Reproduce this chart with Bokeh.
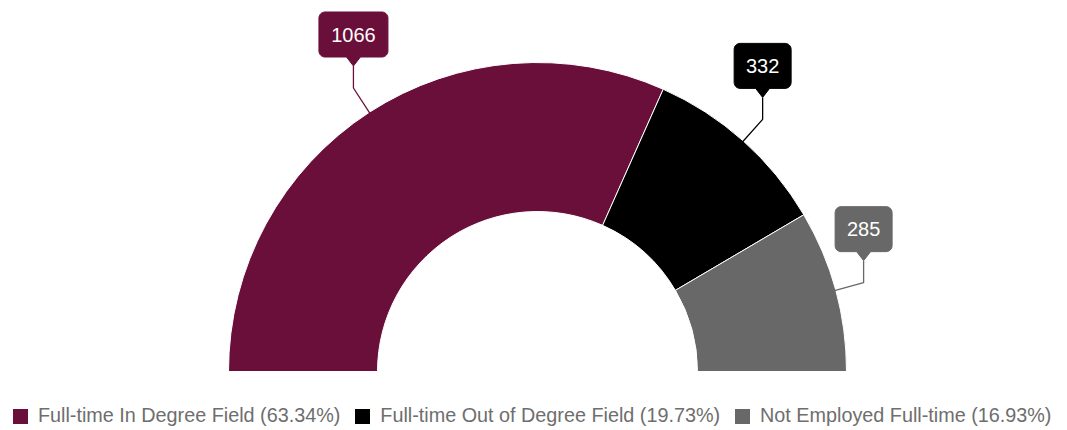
import math
from bokeh.plotting import figure
from bokeh.models import ColumnDataSource, Range1d, Legend, LegendItem
from bokeh.core.properties import value
from bokeh.embed import file_html
from bokeh.resources import INLINE

# ---- data ----
categories = ["Full-time In Degree Field", "Full-time Out of Degree Field", "Not Employed Full-time"]
counts = [1066, 332, 285]
colors = ["#6a0f39", "#000000", "#686868"]

# ---- layout (pixels) ----
W, H = 1067, 430
cx, cy = 537, 59
r_out, r_in = 309, 160
FONT = "Liberation Sans"

total = sum(counts)
fracs = [c / total for c in counts]
starts, ends, mids = [], [], []
acc = 0.0
for f in fracs:
    end = math.pi - acc * math.pi
    acc += f
    start = math.pi - acc * math.pi
    starts.append(start)
    ends.append(end)
    mids.append((start + end) / 2)

legend_labels = [f"{c} ({f*100:.2f}%)" for c, f in zip(categories, fracs)]

src = ColumnDataSource(dict(
    x=[cx] * len(counts), y=[cy] * len(counts),
    start=starts, end=ends, color=colors, label=legend_labels,
))

p = figure(width=W, height=H, x_range=Range1d(0, W), y_range=Range1d(0, H),
           output_backend="svg", toolbar_location=None,
           x_axis_location=None, y_axis_location=None, min_border=0)
p.outline_line_color = None
p.xgrid.visible = False
p.ygrid.visible = False
p.background_fill_color = "white"
p.border_fill_color = "white"

wedges = p.annular_wedge(x="x", y="y", inner_radius=r_in, outer_radius=r_out,
                         start_angle="start", end_angle="end", direction="anticlock",
                         fill_color="color", line_color="white", line_width=1, source=src)

# ---- callout data labels ----
lx, ly, bxs, bys, tx, ty = [], [], [], [], [], []
for i, (c, a) in enumerate(zip(counts, mids)):
    ax_, ay_ = cx + (r_out - 4) * math.cos(a), cy + (r_out - 4) * math.sin(a)
    bx_, by_ = cx + (r_out + 29) * math.cos(a), cy + (r_out + 29) * math.sin(a)
    tipx, tipy = bx_, by_ + 22
    lx.append([ax_, bx_, tipx])
    ly.append([ay_, by_, tipy])
    txt = str(c)
    w = 21 + 12 * len(txt)
    h = 45
    rad = 6
    bot = tipy + 9
    top = bot + h
    left, right = tipx - w / 2, tipx + w / 2
    xs, ys = [], []
    xs += [tipx + 7, tipx, tipx - 7]
    ys += [bot, tipy, bot]
    for k in range(9):
        t = math.pi * 1.5 - k * (math.pi / 2) / 8
        xs.append(left + rad + rad * math.cos(t)); ys.append(bot + rad + rad * math.sin(t))
    for k in range(9):
        t = math.pi - k * (math.pi / 2) / 8
        xs.append(left + rad + rad * math.cos(t)); ys.append(top - rad + rad * math.sin(t))
    for k in range(9):
        t = math.pi / 2 - k * (math.pi / 2) / 8
        xs.append(right - rad + rad * math.cos(t)); ys.append(top - rad + rad * math.sin(t))
    for k in range(9):
        t = 0 - k * (math.pi / 2) / 8
        xs.append(right - rad + rad * math.cos(t)); ys.append(bot + rad + rad * math.sin(t))
    bxs.append(xs); bys.append(ys)
    tx.append(tipx); ty.append(bot + h / 2)

p.multi_line(xs=lx, ys=ly, line_color=colors, line_width=1.3)
p.patches(xs=bxs, ys=bys, fill_color=colors, line_color=colors)
p.text(x=tx, y=ty, text=[str(c) for c in counts], text_color="white",
       text_font=value(FONT), text_font_style="normal", text_font_size="20px",
       text_align="center", text_baseline="middle")

# ---- legend ----
items = [LegendItem(label=lab, renderers=[wedges], index=i) for i, lab in enumerate(legend_labels)]
legend = Legend(items=items, orientation="horizontal", location=(10, 3),
                glyph_width=20, glyph_height=20, label_standoff=8, spacing=12,
                padding=0, margin=0, border_line_color=None, background_fill_alpha=0,
                label_text_font=FONT, label_text_font_size="19.8px",
                label_text_color="#6e6e6e")
p.add_layout(legend)

open("out.html", "w").write(file_html(p, INLINE))
